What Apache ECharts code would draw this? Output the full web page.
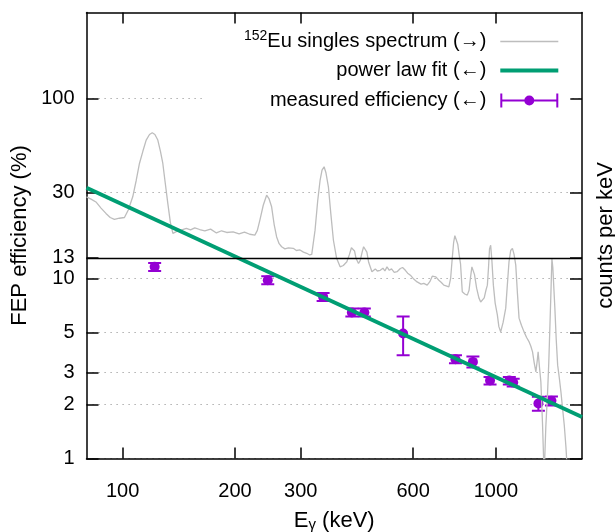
<!DOCTYPE html>
<html><head><meta charset="utf-8">
<script src="https://cdn.jsdelivr.net/npm/echarts@6/dist/echarts.min.js"></script>
<style>html,body{margin:0;padding:0;background:#fff}#c{width:615px;height:532px}</style>
</head><body><div id="c"></div>
<script>
// ---- data ----
const xTicks = [100, 200, 300, 600, 1000];
const yTicks = [1, 2, 3, 5, 10, 13, 30, 100];

const specName = '152Eu singles spectrum (\u2192)';
const fitName = 'power law fit (\u2190)';
const effName = 'measured efficiency (\u2190)';

const specE = [80.0, 82.5, 84.8, 87.5, 90.2, 92.6, 95.0, 98.0, 101.1, 103.5, 106.4, 108.7, 110.9, 113.3, 115.6, 118.0, 120.0, 122.0, 124.2, 126.2, 128.1, 130.0, 132.1, 134.2, 136.3, 140.0, 144.0, 148.1, 152.0, 156.0, 160.8, 166.0, 172.0, 178.3, 184.0, 190.0, 197.6, 205.0, 212.0, 219.0, 226.0, 229.5, 233.1, 238.0, 243.0, 246.5, 250.6, 254.5, 258.5, 262.5, 266.6, 272.0, 278.0, 286.4, 292.0, 298.5, 305.0, 311.2, 317.0, 321.0, 327.6, 333.0, 338.0, 342.0, 346.4, 350.5, 355.7, 361.0, 366.9, 374.0, 382.4, 390.0, 398.6, 405.0, 410.0, 413.7, 418.0, 422.0, 428.3, 433.0, 438.0, 442.0, 446.4, 451.0, 456.0, 465.3, 475.0, 481.0, 489.8, 498.0, 504.0, 510.5, 518.0, 525.0, 534.0, 543.3, 554.4, 562.0, 571.8, 580.0, 589.8, 600.0, 614.8, 630.0, 640.6, 654.2, 665.0, 675.0, 681.4, 690.0, 703.0, 714.0, 724.9, 735.0, 747.7, 756.0, 763.5, 770.0, 776.0, 784.2, 790.0, 797.0, 803.8, 812.3, 825.0, 837.8, 847.0, 855.0, 862.0, 869.5, 876.0, 887.5, 900.0, 910.0, 919.4, 930.0, 940.0, 948.3, 955.0, 961.0, 967.8, 975.0, 984.1, 995.0, 1008.7, 1018.0, 1029.4, 1045.0, 1062.0, 1073.0, 1083.7, 1095.0, 1106.8, 1118.0, 1129.8, 1141.0, 1153.0, 1170.0, 1189.0, 1208.0, 1227.0, 1240.0, 1253.0, 1266.0, 1279.0, 1290.0, 1297.0, 1308.0, 1319.0, 1332.0, 1346.0, 1360.0, 1375.0, 1385.0, 1395.0, 1405.0, 1412.0, 1420.0, 1430.0, 1438.0, 1450.0, 1463.0, 1478.0, 1493.0, 1508.0, 1524.0, 1540.0, 1556.0];
const specV = [28.4, 27.5, 26.6, 24.6, 22.97, 21.8, 21.3, 21.6, 21.8, 24.0, 28.4, 35.0, 43.5, 51.0, 58.7, 63.0, 64.4, 63.0, 58.7, 51.0, 43.5, 34.0, 26.1, 20.5, 17.8, 18.3, 18.6, 18.95, 18.6, 19.1, 18.7, 18.4, 18.8, 17.9, 18.4, 18.0, 18.15, 17.7, 18.1, 17.6, 17.4, 18.5, 21.1, 25.5, 29.0, 27.8, 25.0, 20.0, 17.0, 15.6, 15.0, 14.6, 14.8, 14.7, 14.3, 14.4, 14.0, 13.8, 13.5, 13.6, 18.55, 27.0, 35.2, 40.0, 41.7, 38.5, 32.3, 23.0, 16.3, 13.0, 11.6, 11.8, 12.37, 13.6, 14.8, 15.0, 14.2, 12.9, 12.1, 12.6, 14.0, 15.0, 15.3, 14.0, 12.3, 10.9, 11.3, 11.0, 11.1, 11.4, 11.0, 11.6, 11.1, 11.3, 10.8, 10.9, 11.36, 11.5, 11.1, 10.7, 10.43, 10.0, 9.57, 9.3, 9.38, 9.18, 9.6, 10.3, 10.5, 10.2, 9.78, 9.5, 9.18, 9.1, 8.98, 10.0, 12.9, 15.8, 17.3, 17.2, 15.5, 13.5, 12.0, 8.43, 8.2, 8.08, 8.6, 10.2, 11.6, 11.86, 10.5, 8.83, 7.8, 7.4, 7.29, 7.8, 8.6, 9.18, 11.5, 14.6, 15.3, 12.6, 9.18, 7.3, 6.25, 5.4, 5.05, 5.7, 6.84, 9.3, 12.37, 14.3, 14.7, 13.6, 11.86, 8.4, 6.02, 5.5, 5.05, 4.7, 4.44, 4.2, 3.91, 3.4, 3.03, 3.5, 3.91, 3.2, 2.67, 1.6, 0.8, 1.5, 2.34, 3.4, 5.5, 9.0, 12.9, 11.5, 8.6, 6.84, 4.6, 3.30, 2.8, 2.34, 1.9, 1.53, 1.15, 0.8];

const fitE = [80, 1700];
const fitV = [31.9, 1.70];

const effE = [121.8, 244.7, 344.3, 411.1, 444.0, 564.0, 778.9, 867.4, 964.1, 1085.8, 1112.1, 1299.1, 1408.0];
const effV = [11.6, 9.78, 7.9, 6.47, 6.47, 4.95, 3.56, 3.44, 2.71, 2.71, 2.64, 2.02, 2.09];
const effErr = [0.6, 0.5, 0.4, 0.33, 0.33, 1.2, 0.18, 0.24, 0.13, 0.13, 0.13, 0.18, 0.12];

const separatorLevel = 13;

// ---- styles ----
const FONT = "'Liberation Sans', Arial, Helvetica, sans-serif";
const PURPLE = '#9400d3';
const GREEN = '#009e73';
const GRAY = '#bdbdbd';

const chart = echarts.init(document.getElementById('c'), null, {renderer: 'canvas'});

const axisLineStyle = {show: true, lineStyle: {color: '#000', width: 1.5}};
// legend icons (bounding box 58 x 14 kept by tiny corner specks)
const BOX = ' M0 0h0.01v0.01H0z M57.99 13.99h0.01v0.01h-0.01z';
const errIcon = 'path://M0 6h58v2H0z M0 0h2v14H0z M56 0h2v14h-2z M24 7a5 5 0 1 1 10 0a5 5 0 1 1 -10 0z';
const thinIcon = 'path://M0 6.35h58v1.3H0z' + BOX;
const thickIcon = 'path://M0 5h58v4H0z' + BOX;

const legendBase = {
  orient: 'vertical', align: 'right', itemWidth: 58, itemHeight: 14,
  selectedMode: false, padding: 0,
  textStyle: {fontFamily: FONT, fontSize: 20, color: '#000',
    rich: {
      t: {fontFamily: FONT, fontSize: 20, color: '#000', lineHeight: 24, padding: [0, 9, 0, 0]},
      sup: {fontFamily: FONT, fontSize: 14, color: '#000', lineHeight: 14, padding: [0, 0, 10, 0]}
    }}
};

const option = {
  animation: false,
  backgroundColor: '#fff',
  grid: {left: 86.5, right: 33, top: 12.5, bottom: 73.5, containLabel: false, outerBoundsMode: 'none'},
  legend: [
    Object.assign({}, legendBase, {data: [{name: specName, icon: thinIcon}], top: 29.5, right: 56.7,
      formatter: () => '{sup|152}{t|Eu singles spectrum (\u2192)}'}),
    Object.assign({}, legendBase, {data: [{name: fitName, icon: thickIcon}], top: 60.5, right: 56.7,
      formatter: (n) => '{t|' + n + '}'}),
    Object.assign({}, legendBase, {data: [{name: effName, icon: errIcon}], top: 90.5, right: 44.7,
      padding: [0, 12, 0, 68], backgroundColor: '#fff',
      formatter: (n) => '{t|' + n + '}'})
  ],
  xAxis: [
    {type: 'log', min: 80, max: 1700, position: 'bottom',
     axisLine: axisLineStyle,
     axisTick: {show: true, inside: true, length: 11, customValues: xTicks, lineStyle: {color: '#000', width: 1.5}},
     axisLabel: {show: true, customValues: xTicks, margin: 23, fontFamily: FONT, fontSize: 20, color: '#000',
       formatter: (v) => String(v)},
     splitLine: {show: false}, minorTick: {show: false},
     name: '{e|E}{g|\u03b3}{e| (keV)}', nameLocation: 'middle', nameGap: 49, nameMoveOverlap: false,
     nameTextStyle: {rich: {
       e: {fontFamily: FONT, fontSize: 22, color: '#000', lineHeight: 26},
       g: {fontFamily: FONT, fontSize: 15, color: '#000', lineHeight: 15, padding: [9, 0, 0, 0]}
     }}},
    {type: 'log', min: 80, max: 1700, position: 'top',
     axisLine: axisLineStyle,
     axisTick: {show: true, inside: true, length: 11, customValues: xTicks, lineStyle: {color: '#000', width: 1.5}},
     axisLabel: {show: false}, splitLine: {show: false}}
  ],
  yAxis: [
    {type: 'log', min: 1, max: 300, position: 'left',
     axisLine: axisLineStyle,
     axisTick: {show: true, inside: true, length: 12, customValues: yTicks, lineStyle: {color: '#000', width: 1.5}},
     axisLabel: {show: true, customValues: yTicks, margin: 12, fontFamily: FONT, fontSize: 20, color: '#000',
       formatter: (v) => String(v)},
     splitLine: {show: true, lineStyle: {color: '#9a9a9a', width: 1, type: [1.2, 4.8]}},
     name: 'FEP efficiency (%)', nameLocation: 'middle', nameGap: 56, nameRotate: 90, nameMoveOverlap: false,
     nameTextStyle: {fontFamily: FONT, fontSize: 22, color: '#000'}},
    {type: 'log', min: 1, max: 300, position: 'right',
     axisLine: axisLineStyle,
     axisTick: {show: true, inside: true, length: 12, customValues: yTicks, lineStyle: {color: '#000', width: 1.5}},
     axisLabel: {show: false}, splitLine: {show: false},
     name: 'counts per keV', nameLocation: 'middle', nameGap: 13, nameRotate: 90, nameMoveOverlap: false,
     nameTextStyle: {fontFamily: FONT, fontSize: 22, color: '#000'}}
  ],
  series: [
    {name: specName, type: 'line', xAxisIndex: 0, yAxisIndex: 1, symbol: 'none', clip: true,
     data: specE.map((e, i) => [e, specV[i]]),
     lineStyle: {color: GRAY, width: 1.3}, itemStyle: {color: GRAY},
     markLine: {symbol: 'none', silent: true, animation: false, label: {show: false},
       lineStyle: {color: '#000', width: 1.3, type: 'solid'},
       data: [{yAxis: separatorLevel}]}},
    {name: fitName, type: 'line', xAxisIndex: 0, yAxisIndex: 0, symbol: 'none', clip: true,
     data: fitE.map((e, i) => [e, fitV[i]]),
     lineStyle: {color: GREEN, width: 4}, itemStyle: {color: GREEN}},
    {name: 'errorbars', type: 'custom', xAxisIndex: 0, yAxisIndex: 0, clip: true,
     data: effE.map((e, i) => [e, effV[i] - effErr[i], effV[i] + effErr[i]]),
     encode: {x: 0, y: [1, 2]},
     renderItem: function (params, api) {
       const x = api.value(0);
       const top = api.coord([x, api.value(2)]);
       const bot = api.coord([x, api.value(1)]);
       const w = 6.5;
       const st = {stroke: PURPLE, lineWidth: 2, fill: null};
       return {type: 'group', children: [
         {type: 'line', shape: {x1: top[0], y1: top[1], x2: bot[0], y2: bot[1]}, style: st},
         {type: 'line', shape: {x1: top[0] - w, y1: top[1], x2: top[0] + w, y2: top[1]}, style: st},
         {type: 'line', shape: {x1: bot[0] - w, y1: bot[1], x2: bot[0] + w, y2: bot[1]}, style: st}
       ]};
     }},
    {name: effName, type: 'scatter', xAxisIndex: 0, yAxisIndex: 0, symbol: 'circle', symbolSize: 10,
     data: effE.map((e, i) => [e, effV[i]]),
     itemStyle: {color: PURPLE, opacity: 1}}
  ]
};
chart.setOption(option);
</script>
</body></html>
